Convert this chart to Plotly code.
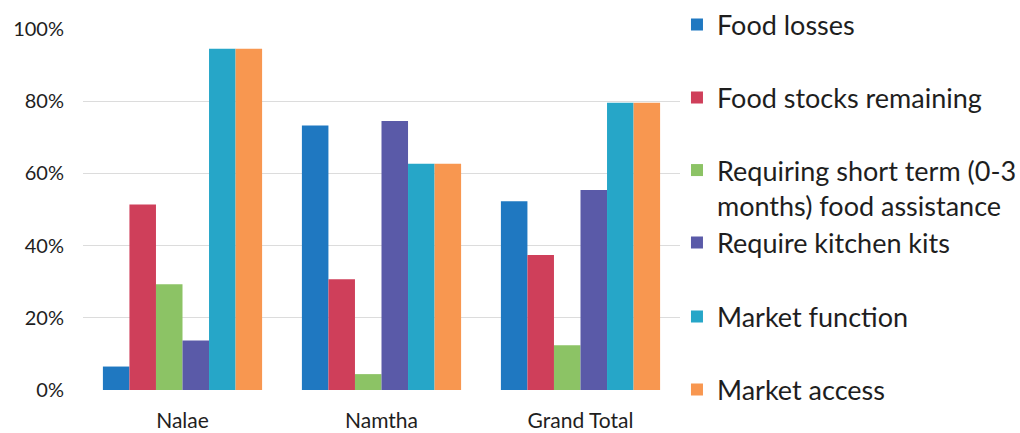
import plotly.graph_objects as go

categories = ["Nalae", "Namtha", "Grand Total"]
series_names = [
    "Food losses",
    "Food stocks remaining",
    "Requiring short term (0-3<br>months) food assistance",
    "Require kitchen kits",
    "Market function",
    "Market access",
]
food_losses = [0.065, 0.733, 0.523]
food_stocks = [0.514, 0.307, 0.374]
short_term = [0.293, 0.044, 0.124]
kitchen_kits = [0.137, 0.745, 0.554]
market_function = [0.945, 0.627, 0.796]
market_access = [0.945, 0.627, 0.796]
y_ticks = [0, 0.2, 0.4, 0.6, 0.8, 1.0]
y_ticklabels = ["0%", "20%", "40%", "60%", "80%", "100%"]

colors = ["#1f78c1", "#cf3f5a", "#8cc365", "#5a5aa8", "#26a6c8", "#f89750"]
# legend anchor positions (container fractions)
legend_y = [0.9423, 0.7737, 0.6628, 0.4388, 0.2679, 0.0993]
legend_valign = ["middle", "middle", "top", "middle", "middle", "middle"]

values = [food_losses, food_stocks, short_term, kitchen_kits, market_function, market_access]
FONT = "Lato"
TEXT = "#1e1e1e"

fig = go.Figure()
layout_legends = {}
for i, (name, vals, col) in enumerate(zip(series_names, values, colors)):
    key = "legend" if i == 0 else f"legend{i+1}"
    fig.add_trace(go.Bar(name=name, x=categories, y=vals, marker=dict(color=col, line=dict(width=0)),
                         legend=key, showlegend=True))
    layout_legends[key] = dict(
        xref="container", yref="container",
        x=0.6637, y=legend_y[i], xanchor="left",
        yanchor="top" if legend_valign[i] == "top" else "middle",
        valign=legend_valign[i],
        font=dict(family=FONT, size=27, color=TEXT),
        bgcolor="rgba(0,0,0,0)", borderwidth=0, itemwidth=30,
        tracegroupgap=0,
    )

fig.update_layout(
    width=1020, height=433,
    showlegend=True,
    margin=dict(l=83, r=340, t=29, b=43, pad=0, autoexpand=False),
    paper_bgcolor="white", plot_bgcolor="white",
    barmode="group", bargap=0.2, bargroupgap=0,
    font=dict(family=FONT, color=TEXT),
    xaxis=dict(showgrid=False, showline=False, zeroline=False, ticks="",
               tickfont=dict(family=FONT, size=21, color=TEXT), ticklabelstandoff=16),
    yaxis=dict(range=[0, 1.0], tickvals=y_ticks, ticktext=y_ticklabels,
               showgrid=True, gridcolor="#dcdcdc", gridwidth=1, zeroline=False, showline=False,
               ticks="", tickfont=dict(family=FONT, size=20, color=TEXT), ticklabelstandoff=18),
    **layout_legends,
)

fig.write_html("out.html")
